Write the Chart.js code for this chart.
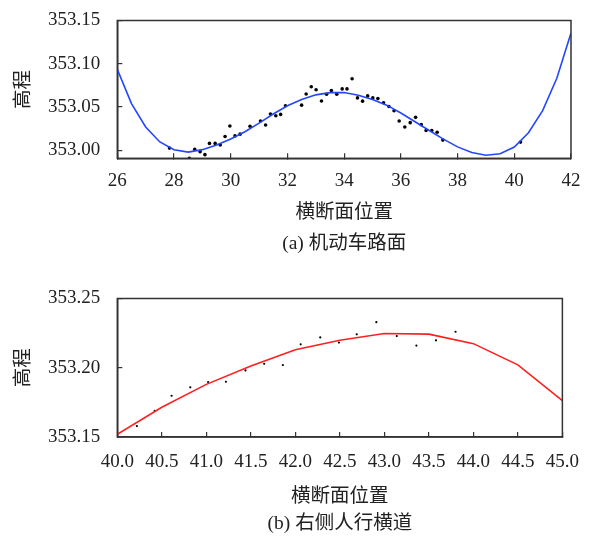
<!DOCTYPE html>
<html>
<head>
<meta charset="utf-8">
<script src="https://cdn.jsdelivr.net/npm/chart.js@4.4.1/dist/chart.umd.min.js"></script>
<style>
  body { margin: 0; background: #fff; }
  #wrap { position: relative; width: 598px; height: 536px; }
  .box { position: absolute; left: 0; width: 598px; height: 268px; }
</style>
</head>
<body>
<div id="wrap">
  <div class="box" style="top:0"><canvas id="roadChart" width="598" height="268"></canvas></div>
  <div class="box" style="top:268px"><canvas id="walkChart" width="598" height="268"></canvas></div>
</div>
<script>
// (a) motor-vehicle lane: fitted curve + measured points
const roadCurveX = [26, 26.5, 27, 27.5, 28, 28.5, 29, 29.5, 30, 30.5, 31, 31.5, 32, 32.5, 33, 33.5,
                    34, 34.5, 35, 35.5, 36, 36.5, 37, 37.5, 38, 38.5, 39, 39.5, 40, 40.5, 41, 41.5, 42];
const roadCurveY = [353.0935, 353.0540, 353.0270, 353.0097, 353.0006, 352.9980, 353.0008, 353.0062,
                    353.0130, 353.0215, 353.0315, 353.0420, 353.0515, 353.0588, 353.0641, 353.0667,
                    353.0668, 353.0637, 353.0588, 353.0522, 353.0431, 353.0330, 353.0229, 353.0130,
                    353.0040, 352.9974, 352.9943, 352.9960, 353.0038, 353.0203, 353.0458, 353.0832, 353.1355];
const roadPointX = [27.84, 28.54, 28.73, 28.92, 29.09, 29.25, 29.45, 29.63, 29.80, 29.97, 30.15, 30.33,
                    30.68, 31.05, 31.23, 31.40, 31.59, 31.76, 31.93, 32.50, 32.66, 32.84, 33.01, 33.20,
                    33.38, 33.55, 33.74, 33.93, 34.10, 34.28, 34.47, 34.65, 34.83, 35.01, 35.19, 35.39,
                    35.58, 35.76, 35.94, 36.14, 36.33, 36.52, 36.72, 36.89, 37.09, 37.28, 37.48, 40.22];
const roadPointY = [353.0026, 352.9908, 353.0011, 352.9984, 352.9950, 353.0080, 353.0080, 353.0061,
                    353.0160, 353.0282, 353.0167, 353.0187, 353.0278, 353.0339, 353.0293, 353.0419,
                    353.0400, 353.0415, 353.0515, 353.0522, 353.0650, 353.0735, 353.0700, 353.0570,
                    353.0648, 353.0690, 353.0648, 353.0710, 353.0710, 353.0827, 353.0606, 353.0568,
                    353.0629, 353.0606, 353.0598, 353.0549, 353.0507, 353.0458, 353.0339, 353.0270,
                    353.0320, 353.0381, 353.0297, 353.0229, 353.0229, 353.0209, 353.0118, 353.0095];
const roadXTicks = [26, 28, 30, 32, 34, 36, 38, 40, 42];
const roadYTicks = [353.00, 353.05, 353.10, 353.15];

// (b) right sidewalk
const walkCurveX = [40.0, 40.5, 41.0, 41.5, 42.0, 42.5, 43.0, 43.5, 44.0, 44.5, 45.0];
const walkCurveY = [353.1520, 353.1715, 353.1880, 353.2012, 353.2130, 353.2199, 353.2247, 353.2243,
                    353.2174, 353.2021, 353.1763];
const walkPointX = [40.22, 40.42, 40.61, 40.82, 41.02, 41.22, 41.44, 41.65, 41.86, 42.06, 42.28, 42.49,
                    42.69, 42.91, 43.14, 43.36, 43.58, 43.80];
const walkPointY = [353.1579, 353.1689, 353.1798, 353.1859, 353.1897, 353.1899, 353.1981, 353.2028,
                    353.2019, 353.2169, 353.2219, 353.2182, 353.2241, 353.2329, 353.2229, 353.2160,
                    353.2198, 353.2260];
const walkXTicks = [40.0, 40.5, 41.0, 41.5, 42.0, 42.5, 43.0, 43.5, 44.0, 44.5, 45.0];
const walkYTicks = [353.15, 353.20, 353.25];

const FONT = "'Liberation Serif', 'Noto Sans CJK SC', serif";
const INK = '#222';

// box around the plot area
const framePlugin = {
    id: 'frame',
    afterDatasetsDraw(chart) {
        const { ctx, chartArea: a } = chart;
        ctx.save();
        ctx.strokeStyle = '#333';
        ctx.lineWidth = 1.5;
        ctx.strokeRect(a.left, a.top, a.right - a.left, a.bottom - a.top);
        ctx.restore();
    }
};

function toPoints(xs, ys) {
    return xs.map((x, i) => ({ x: x, y: ys[i] }));
}

// build one panel
function makePanel(canvasId, cfg) {
    let ctx = document.getElementById(canvasId).getContext('2d');
    return new Chart(ctx, {
        type: 'scatter',
        data: {
            datasets: [{
                data: toPoints(cfg.curveX, cfg.curveY),
                showLine: true,
                borderColor: cfg.lineColor,
                borderWidth: 1.6,
                pointRadius: 0,
                tension: 0
            }, {
                data: toPoints(cfg.pointX, cfg.pointY),
                backgroundColor: '#000',
                borderWidth: 0,
                pointRadius: cfg.dotSize
            }]
        },
        options: {
            responsive: false,
            animation: false,
            devicePixelRatio: 1,
            layout: { padding: { top: cfg.padTop, right: 27, bottom: cfg.padBottom, left: 0 } },
            plugins: {
                legend: { display: false },
                tooltip: { enabled: false },
                title: {
                    display: true,
                    position: 'bottom',
                    fullSize: false,
                    text: cfg.caption,
                    color: INK,
                    padding: 0,
                    font: { family: FONT, size: 19.5, weight: 'normal', lineHeight: 1.2 }
                }
            },
            scales: {
                x: {
                    type: 'linear',
                    min: cfg.xMin,
                    max: cfg.xMax,
                    afterBuildTicks: s => { s.ticks = cfg.xTicks.map(v => ({ value: v })); },
                    afterFit: s => { s.height = cfg.xAxisHeight; },
                    grid: { drawOnChartArea: false, drawTicks: true, tickLength: -5, color: '#333', lineWidth: 1.2 },
                    border: { color: '#333', width: 1.5 },
                    ticks: {
                        autoSkip: false,
                        padding: cfg.xTickPad,
                        color: INK,
                        maxRotation: 0,
                        font: { family: FONT, size: 19 },
                        callback: v => cfg.xFmt(v)
                    },
                    title: {
                        display: true,
                        text: '横断面位置',
                        color: INK,
                        padding: { top: 0, bottom: cfg.xTitlePad },
                        font: { family: FONT, size: 19.5 }
                    }
                },
                y: {
                    type: 'linear',
                    min: cfg.yMin,
                    max: cfg.yMax,
                    afterBuildTicks: s => { s.ticks = cfg.yTicks.map(v => ({ value: v })); },
                    afterFit: s => {
                        s.width = 117.3;
                        // labels may overhang; layout padding already leaves room
                        s.paddingTop = 0;
                        s.paddingBottom = 0;
                    },
                    grid: { drawOnChartArea: false, drawTicks: true, tickLength: -5, color: '#333', lineWidth: 1.2 },
                    border: { color: '#333', width: 1.5 },
                    ticks: {
                        autoSkip: false,
                        padding: 22,
                        color: INK,
                        font: { family: FONT, size: 19 },
                        callback: v => v.toFixed(2)
                    },
                    title: {
                        display: true,
                        text: '高程',
                        color: INK,
                        padding: { top: 12, bottom: 0 },
                        font: { family: FONT, size: 19.5 }
                    }
                }
            }
        },
        plugins: [framePlugin]
    });
}

makePanel('roadChart', {
    curveX: roadCurveX, curveY: roadCurveY, pointX: roadPointX, pointY: roadPointY,
    lineColor: '#2346ff', dotSize: 1.8,
    xMin: 26, xMax: 42, yMin: 352.9908, yMax: 353.15,
    xTicks: roadXTicks, yTicks: roadYTicks, xFmt: v => String(v),
    padTop: 20.5, padBottom: 12.8, xAxisHeight: 73.5, xTickPad: 16, xTitlePad: 7.5,
    caption: '(a) 机动车路面'
});

makePanel('walkChart', {
    curveX: walkCurveX, curveY: walkCurveY, pointX: walkPointX, pointY: walkPointY,
    lineColor: '#ff1f1f', dotSize: 1.1,
    xMin: 40, xMax: 45, yMin: 353.15, yMax: 353.25,
    xTicks: walkXTicks, yTicks: walkYTicks, xFmt: v => v.toFixed(1),
    padTop: 30.5, padBottom: 0, xAxisHeight: 75.6, xTickPad: 19, xTitlePad: 4,
    caption: '(b) 右侧人行横道'
});
</script>
</body>
</html>
